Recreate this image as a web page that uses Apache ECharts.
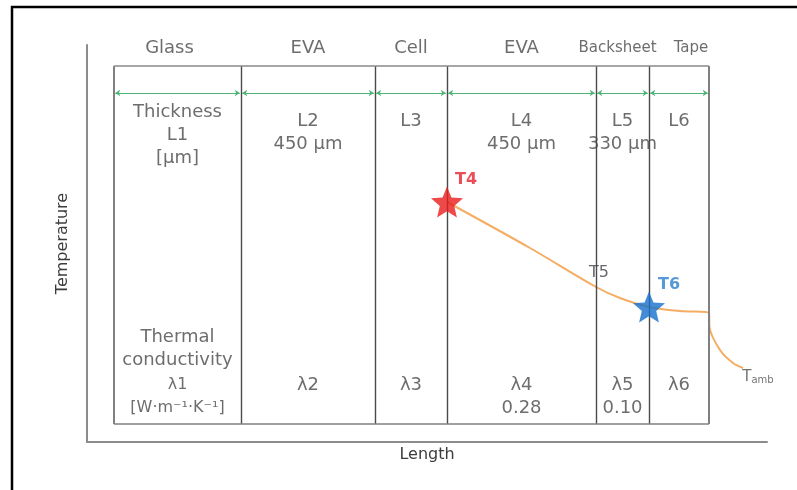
<!DOCTYPE html>
<html>
<head>
<meta charset="utf-8">
<script src="https://cdn.jsdelivr.net/npm/echarts@6/dist/echarts.min.js"></script>
<style>
  html, body { margin: 0; padding: 0; background: #fff; }
  #chart { width: 797px; height: 490px; }
</style>
</head>
<body>
<div id="chart"></div>
<script>
// Module layer stack (length axis in arbitrary units, temperature in arbitrary units)
const layerNames = ['Glass', 'EVA', 'Cell', 'EVA', 'Backsheet', 'Tape'];
const layerEdges = [2.7, 15.4, 28.8, 36.0, 50.9, 56.2, 62.2];
const thicknessLabels = ['Thickness\nL1\n[μm]', 'L2\n450 μm', 'L3', 'L4\n450 μm', 'L5\n330 μm', 'L6'];
const conductivityTitle = 'Thermal\nconductivity';
const conductivityLabels = ['λ1\n[W·m⁻¹·K⁻¹]', 'λ2', 'λ3', 'λ4\n0.28', 'λ5\n0.10', 'λ6'];

// Temperature profile through the rear of the module
const profileX = [36.0, 44.3, 50.9, 53.3, 56.2, 59.3, 62.2, 62.25, 63.3, 64.6, 65.6];
const profileY = [24.0, 19.4, 15.5, 14.4, 13.5, 13.1, 12.9, 11.5, 9.2, 7.9, 7.4];

// Named temperature points
const pointNames = ['T4', 'T5', 'T6', 'Tamb'];
const pointX = [36.0, 50.9, 56.2, 65.6];
const pointY = [24.0, 15.5, 13.5, 7.4];

const xMax = 68, yMax = 39.7;
const tableTop = 37.6, tableBottom = 1.8, dimLineY = 34.9;
const nameRowY = 39.4, thickRowY = 32.1, headerThickY = 33.0, titleY = 10.5, condRowY = 5.7;

const FONT = 'DejaVu Sans';
const TEXT = '#484848';

function starPath(inner) {
  const pts = [];
  for (let i = 0; i < 10; i++) {
    const r = i % 2 ? inner : 1;
    const a = -Math.PI / 2 + i * Math.PI / 5;
    pts.push((50 + 50 * r * Math.cos(a)).toFixed(2) + ',' + (50 + 50 * r * Math.sin(a)).toFixed(2));
  }
  return 'path://M' + pts.join('L') + 'Z';
}
const STAR = starPath(0.45);

const centers = layerNames.map((_, i) => (layerEdges[i] + layerEdges[i + 1]) / 2);

// table outline and layer boundaries
const tableLines = [];
layerEdges.forEach((x, i) => {
  const outer = i === 0 || i === layerEdges.length - 1;
  tableLines.push([
    { coord: [x, tableBottom], lineStyle: { color: outer ? '#808080' : '#4a4a4a', width: outer ? 2 : 1.4, type: 'solid' } },
    { coord: [x, tableTop] }
  ]);
});
tableLines.push([{ coord: [layerEdges[0], tableTop], lineStyle: { color: '#8a8a8a', width: 1.6, type: 'solid' } },
                 { coord: [layerEdges[layerEdges.length - 1], tableTop] }]);
tableLines.push([{ coord: [layerEdges[0], tableBottom], lineStyle: { color: '#808080', width: 1.6, type: 'solid' } },
                 { coord: [layerEdges[layerEdges.length - 1], tableBottom] }]);

// thickness dimension arrows across each layer
const dimLines = layerNames.map((_, i) => [
  { coord: [layerEdges[i] + 0.12, dimLineY] },
  { coord: [layerEdges[i + 1] - 0.12, dimLineY] }
]);

function textSeries(name, xs, ys, texts, opts) {
  return {
    name: name,
    type: 'scatter',
    symbolSize: 0,
    silent: true,
    clip: false,
    z: 5,
    data: xs.map((x, i) => ({ value: [x, ys[i]], label: (opts.per && opts.per[i]) || {} })),
    label: Object.assign({
      show: true,
      position: 'inside',
      formatter: p => texts[p.dataIndex],
      color: TEXT,
      fontFamily: FONT,
      fontSize: 18,
      lineHeight: 23,
      align: 'center',
      verticalAlign: 'top',
      offset: [0, -11.5]
    }, opts.label || {})
  };
}

const chart = echarts.init(document.getElementById('chart'), null, { renderer: 'canvas' });

chart.setOption({
  animation: false,
  backgroundColor: '#fff',
  grid: { left: 87, right: 30, top: 45, bottom: 48 },
  xAxis: {
    type: 'value', min: 0, max: xMax,
    name: 'Length', nameLocation: 'middle', nameGap: 5,
    nameTextStyle: { color: '#3c3c3c', fontFamily: FONT, fontSize: 16, verticalAlign: 'top' },
    axisLine: { show: true, lineStyle: { color: '#8c8c8c', width: 2 } },
    axisTick: { show: false }, axisLabel: { show: false }, splitLine: { show: false }
  },
  yAxis: {
    type: 'value', min: 0, max: yMax,
    name: 'Temperature', nameLocation: 'middle', nameGap: 16,
    nameTextStyle: { color: '#3c3c3c', fontFamily: FONT, fontSize: 16 },
    axisLine: { show: true, lineStyle: { color: '#8c8c8c', width: 2 } },
    axisTick: { show: false }, axisLabel: { show: false }, splitLine: { show: false }
  },
  graphic: [
    { type: 'line', shape: { x1: 12, y1: 6, x2: 12, y2: 490 }, style: { stroke: '#000', lineWidth: 2.5 } },
    { type: 'line', shape: { x1: 11, y1: 7, x2: 797, y2: 7 }, style: { stroke: '#000', lineWidth: 2.5 } }
  ],
  series: [
    {
      name: 'structure',
      type: 'line',
      data: [],
      silent: true,
      markLine: {
        silent: true,
        symbol: ['none', 'none'],
        label: { show: false },
        data: tableLines
      }
    },
    {
      name: 'thickness',
      type: 'line',
      data: [],
      silent: true,
      markLine: {
        silent: true,
        symbol: ['arrow', 'arrow'],
        symbolSize: [5, 5],
        label: { show: false },
        lineStyle: { color: '#4fb477', width: 1.2, type: 'solid' },
        data: dimLines
      }
    },
    {
      name: 'profile',
      type: 'line',
      data: profileX.map((x, i) => [x, profileY[i]]),
      showSymbol: false,
      smooth: 0.35,
      silent: true,
      z: 3,
      lineStyle: { color: '#f4ad63', width: 2 }
    },
    textSeries('layers', centers, centers.map(() => nameRowY), layerNames, {
      label: { verticalAlign: 'middle', offset: [0, 0] },
      per: { 0: { offset: [-8, 0] }, 4: { fontSize: 15, offset: [-5, 0] }, 5: { fontSize: 15, offset: [12, 0] } }
    }),
    textSeries('thicknessRow', centers, centers.map((_, i) => i === 0 ? headerThickY : thickRowY), thicknessLabels, {}),
    textSeries('conductivityTitle', [centers[0]], [titleY], [conductivityTitle], {}),
    textSeries('conductivityRow', centers, centers.map(() => condRowY), conductivityLabels, {
      per: { 0: { fontSize: 16 } }
    }),
    {
      name: 'stars',
      type: 'scatter',
      z: 6,
      silent: true,
      symbol: STAR,
      symbolSize: [32, 31],
      data: [
        { value: [pointX[0], pointY[0]], itemStyle: { color: '#e81c1c' },
          label: { show: true, formatter: pointNames[0], color: '#e8202a', fontWeight: 'bold', offset: [19, -22] } },
        { value: [pointX[2], pointY[2]], itemStyle: { color: '#1570cc' },
          label: { show: true, formatter: pointNames[2], color: '#2a80d0', fontWeight: 'bold', offset: [20, -22] } }
      ],
      label: { position: 'inside', fontFamily: FONT, fontSize: 16 }
    },
    {
      name: 'pointLabels',
      type: 'scatter',
      z: 6,
      silent: true,
      symbolSize: 0,
      clip: false,
      data: [
        { value: [pointX[1], pointY[1]],
          label: { show: true, formatter: pointNames[1], color: '#3e3e48', fontSize: 16, offset: [3, -14] } },
        { value: [pointX[3], pointY[3]],
          label: { show: true, formatter: '{t|T}{s|amb}', offset: [15, 9],
                   rich: { t: { fontSize: 15, color: '#505050', fontFamily: FONT },
                           s: { fontSize: 10, color: '#505050', fontFamily: FONT, padding: [7, 0, 0, 0] } } } }
      ],
      label: { position: 'inside', fontFamily: FONT }
    }
  ]
});
</script>
</body>
</html>
